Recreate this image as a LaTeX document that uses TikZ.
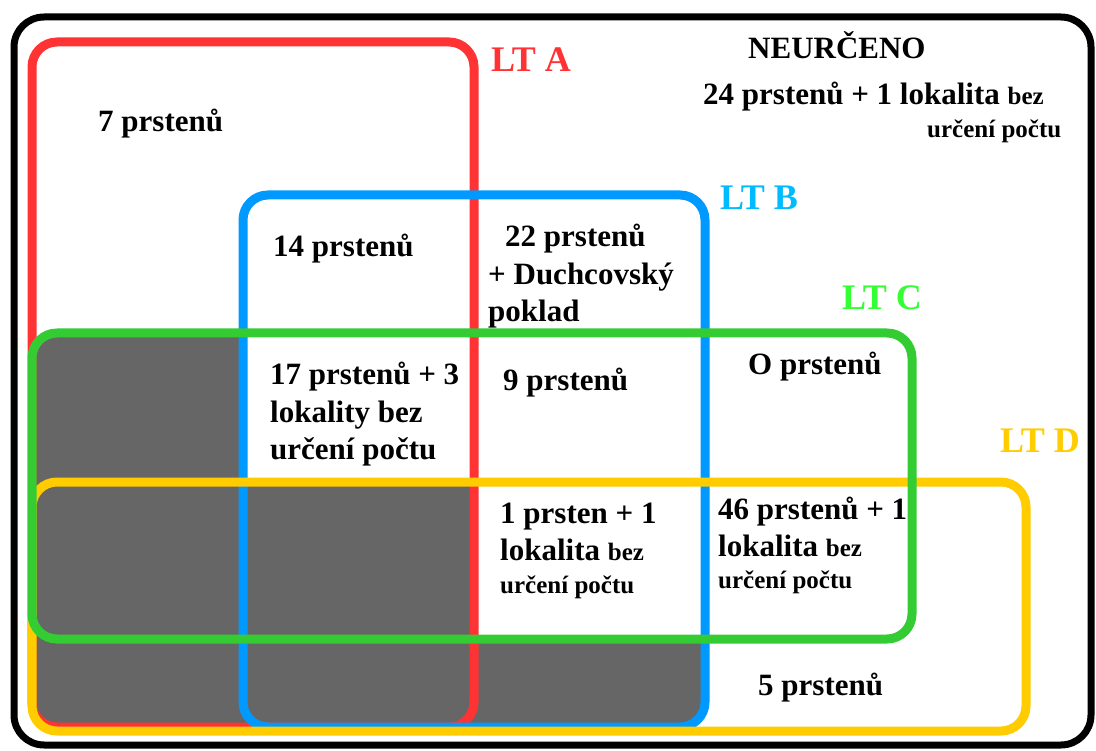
\documentclass[tikz,border=0pt]{standalone}
\usepackage{fontspec}
\setmainfont{Liberation Serif}
\usetikzlibrary{positioning}

\definecolor{ltared}{HTML}{FF3333}
\definecolor{ltblue}{HTML}{0099FF}
\definecolor{ltgreen}{HTML}{33CC33}
\definecolor{ltyellow}{HTML}{FFCC00}
\definecolor{labblue}{HTML}{00BBFF}
\definecolor{labgreen}{HTML}{33FF33}
\definecolor{greyarea}{HTML}{666666}

\newcommand\bigtxt{\fontsize{31}{37.5}\selectfont\bfseries}
\newcommand\smalltxt{\fontsize{25}{31}\selectfont\bfseries}
\newcommand\labtxt{\fontsize{36}{40}\selectfont\bfseries}

\tikzset{
  setbox/.style={line width=9pt, rounded corners=25pt},
  count/.style={font=\bigtxt, anchor=base west, inner sep=0pt, align=left},
  setname/.style={font=\labtxt, anchor=base west, inner sep=0pt},
}

\begin{document}
\begin{tikzpicture}[x=1pt,y=-1pt]
\useasboundingbox (0,0) rectangle (1096,751);
\fill[white] (0,0) rectangle (1096,751);

% frame
\draw[line width=7pt, rounded corners=30pt] (14,17) rectangle (1091,745);

% shaded part
\begin{scope}
\clip (32,333) -- (243,333) -- (243,482) -- (474,482) -- (474,639) -- (705,639) -- (705,731) -- (32,731) -- cycle;
\fill[greyarea, rounded corners=25pt] (32,333) rectangle (705,731);
\end{scope}

% sets
\draw[setbox, ltared] (32,42) rectangle (474,727);
\draw[setbox, ltblue] (243,195) rectangle (705,727);
\draw[setbox, ltyellow] (32,482) rectangle (1026,731);
\draw[setbox, ltgreen] (32,333) rectangle (912,639);

% set names
\node[setname, text=ltared] (lta) at (491,72) {LT A};
\node[setname, text=labblue] (ltb) at (720,210) {LT B};
\node[setname, text=labgreen] (ltc) at (842,310) {LT C};
\node[setname, text=ltyellow] (ltd) at (1000,453) {LT D};

% counts (multi-line: base = last line)
\node[count] (neurc) at (748,59) {NEURČENO};
\node[count] (neurcpocet) at (703,105) {24 prstenů + 1 lokalita {\smalltxt bez}};
\node[count, font=\smalltxt] (neurcbez) at (927,138) {určení počtu};
\node[count] (onlya) at (98,132) {7 prstenů};
\node[count] (ab) at (273,257) {14 prstenů};
\node[count] (onlyb) at (488,322) {\hspace*{17pt}22 prstenů\\+ Duchcovský\\poklad};
\node[count] (abc) at (270,460) {17 prstenů + 3\\lokality bez\\určení počtu};
\node[count] (bc) at (503,391) {9 prstenů};
\node[count] (onlyc) at (748,375) {O prstenů};
\node[count] (bcd) at (500,593) {1 prsten + 1\\lokalita {\smalltxt bez}\\[-5pt]{\smalltxt určení počtu}};
\node[count] (cd) at (718,588) {46 prstenů + 1\\lokalita {\smalltxt bez}\\[-6pt]{\smalltxt určení počtu}};
\node[count] (onlyd) at (758,695) {5 prstenů};

\end{tikzpicture}
\end{document}
